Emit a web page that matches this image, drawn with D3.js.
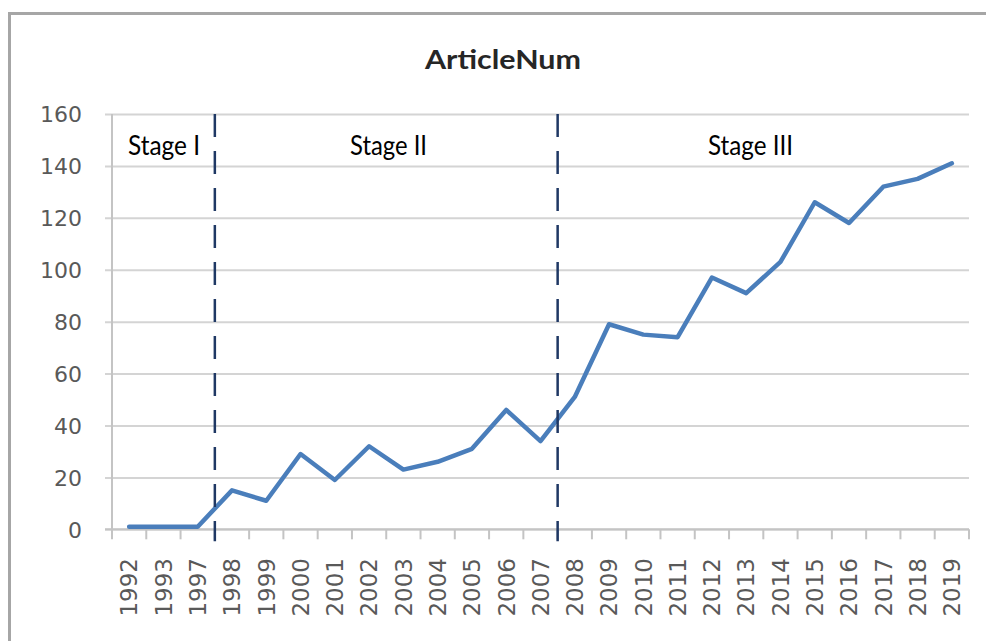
<!DOCTYPE html>
<html>
<head>
<meta charset="utf-8">
<script src="https://cdn.jsdelivr.net/npm/d3@7"></script>
<style>
  html, body { margin: 0; padding: 0; background: #ffffff; }
  svg { display: block; }
</style>
</head>
<body>
<svg id="chart" width="986" height="641"></svg>
<script>
// ---- data ----
const categories = ["1992","1993","1997","1998","1999","2000","2001","2002","2003","2004","2005","2006","2007","2008","2009","2010","2011","2012","2013","2014","2015","2016","2017","2018","2019"];
const articleNum = [1,1,1,15,11,29,19,32,23,26,31,46,34,51,79,75,74,97,91,103,126,118,132,135,141];
const yTicks = [0,20,40,60,80,100,120,140,160];
const stageBreakAfter = ["1997","2007"];
const stageLabels = ["Stage I","Stage II","Stage III"];
const titleText = "ArticleNum";

// ---- layout ----
const W = 986, H = 641;
const plot = { left: 112, right: 969, top: 114, bottom: 529.3 };
const stageLabelX = [164, 388.5, 750.5];
const stageLabelW = [72, 77, 85];

const svg = d3.select("#chart");

// outer frame (top & left edges visible)
svg.append("line").attr("x1", 8).attr("x2", W).attr("y1", 13.5).attr("y2", 13.5)
  .attr("stroke", "#a6a6a6").attr("stroke-width", 3);
svg.append("line").attr("x1", 9.5).attr("x2", 9.5).attr("y1", 12).attr("y2", H)
  .attr("stroke", "#a6a6a6").attr("stroke-width", 3);

const x = d3.scaleBand().domain(categories).range([plot.left, plot.right]).padding(0);
const y = d3.scaleLinear().domain([0, 160]).range([plot.bottom, plot.top]);

// gridlines + y labels
const yAxis = d3.axisLeft(y).tickValues(yTicks).tickSize(-(plot.right - plot.left)).tickPadding(0).tickFormat(d3.format("d"));
const gy = svg.append("g").attr("transform", `translate(${plot.left},0)`).call(yAxis);
gy.select(".domain").remove();
gy.selectAll(".tick line").attr("stroke", "#d4d4d4").attr("stroke-width", 2).attr("x1", -7);
gy.selectAll(".tick text").attr("x", -30).attr("fill", "#595959")
  .style("font-family", "'DejaVu Sans', sans-serif").style("font-size", "22px")
  .attr("text-anchor", "end").attr("dy", "0.36em");

// y axis line
svg.append("line").attr("x1", plot.left).attr("x2", plot.left).attr("y1", plot.top).attr("y2", plot.bottom + 10)
  .attr("stroke", "#c4c4c4").attr("stroke-width", 2);

// x axis line + boundary ticks
svg.append("line").attr("x1", plot.left - 7).attr("x2", plot.right).attr("y1", plot.bottom).attr("y2", plot.bottom)
  .attr("stroke", "#c4c4c4").attr("stroke-width", 2);
const boundaries = categories.map(c => x(c) + x.bandwidth());
svg.append("g").selectAll("line").data(boundaries).join("line")
  .attr("x1", d => d).attr("x2", d => d).attr("y1", plot.bottom).attr("y2", plot.bottom + 10)
  .attr("stroke", "#c4c4c4").attr("stroke-width", 2);

// x labels rotated
svg.append("g").selectAll("text").data(categories).join("text")
  .attr("transform", d => `translate(${x(d) + x.bandwidth() / 2},558) rotate(-90)`)
  .attr("text-anchor", "end").attr("dy", "0.36em")
  .attr("fill", "#595959")
  .style("font-family", "'DejaVu Sans', sans-serif").style("font-size", "23px")
  .text(d => d);

// data line
const line = d3.line().x((d, i) => x(categories[i]) + x.bandwidth() / 2).y(d => y(d));
svg.append("path").datum(articleNum).attr("d", line)
  .attr("fill", "none").attr("stroke", "#4a7ebb").attr("stroke-width", 4.5)
  .attr("stroke-linejoin", "round").attr("stroke-linecap", "round");

// stage separators
svg.append("g").selectAll("line").data(stageBreakAfter).join("line")
  .attr("x1", d => x(d) + x.bandwidth()).attr("x2", d => x(d) + x.bandwidth())
  .attr("y1", plot.top).attr("y2", plot.bottom + 12)
  .attr("stroke", "#1f3864").attr("stroke-width", 2.5).attr("stroke-dasharray", "23,14");

// stage labels
svg.append("g").selectAll("text").data(stageLabels).join("text")
  .attr("x", (d, i) => stageLabelX[i]).attr("y", 155)
  .attr("text-anchor", "middle")
  .attr("textLength", (d, i) => stageLabelW[i]).attr("lengthAdjust", "spacingAndGlyphs")
  .attr("fill", "#000000")
  .style("font-family", "Lato, 'Open Sans', sans-serif").style("font-size", "26px")
  .text(d => d);

// title
svg.append("text").attr("x", 503).attr("y", 69).attr("text-anchor", "middle")
  .attr("textLength", 156).attr("lengthAdjust", "spacingAndGlyphs")
  .attr("fill", "#262626")
  .style("font-family", "Lato, 'Open Sans', sans-serif").style("font-size", "26px").style("font-weight", "bold")
  .text(titleText);
</script>
</body>
</html>
